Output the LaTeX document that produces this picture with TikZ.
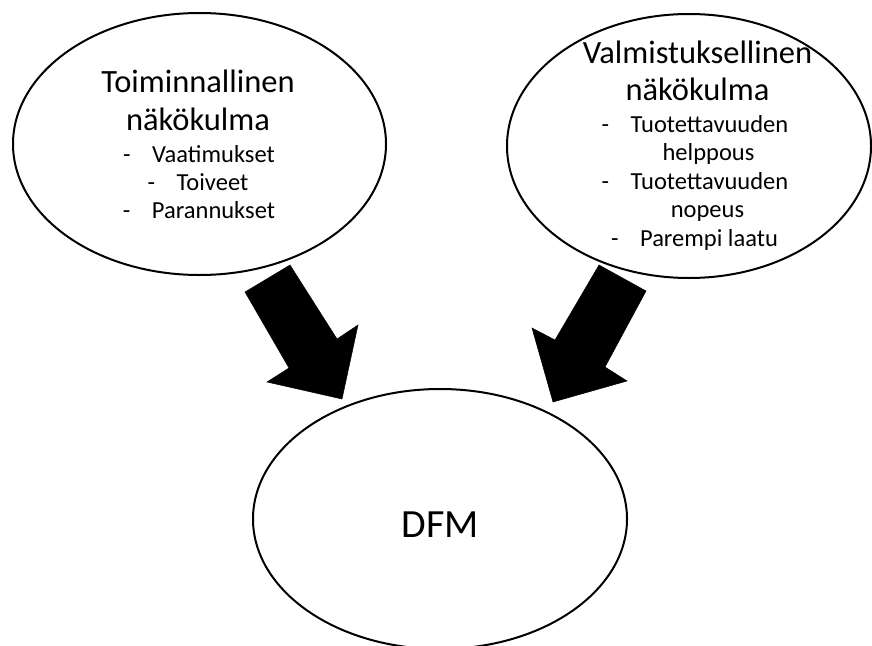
\documentclass[tikz,border=0pt]{standalone}
\usepackage{fontspec}
\setmainfont{Carlito}
\usetikzlibrary{shapes.geometric}

\tikzset{
  view/.style={ellipse, draw=black, line width=2pt, fill=white, inner sep=0pt},
  title/.style={anchor=base, font=\fontsize{32.5}{38}\selectfont, inner sep=0pt},
  item/.style={anchor=base, font=\fontsize{24.5}{28}\selectfont, inner sep=0pt},
  blockarrow/.style={fill=black, draw=black, line width=0.5pt, line join=miter}
}
\newcommand{\dashitem}[1]{\makebox[29pt][l]{-}#1}

\begin{document}
\begin{tikzpicture}[x=1pt, y=-1pt]
  \useasboundingbox (0,0) rectangle (872,645);
  \begin{scope}
    \clip (0,0) rectangle (872,645);

    % the three ellipses
    \node[view, minimum width=373pt, minimum height=262pt] (func) at (199.5,144) {};
    \node[view, minimum width=364pt, minimum height=264pt] (manu) at (689,146) {};
    \node[view, minimum width=374pt, minimum height=260pt] (dfm)  at (440,519) {};

    % block arrows pointing into DFM
    \fill[blockarrow] (290,265) -- (337,339) -- (358,325) -- (342,399)
      -- (267,382) -- (289,368) -- (245,292) -- cycle;
    \fill[blockarrow] (599,265) -- (646,291) -- (605,367) -- (627,381)
      -- (553,402) -- (532,328) -- (555,340) -- cycle;

    % functional view
    \node[title] (f1) at (198,92)  {Toiminnallinen};
    \node[title] (f2) at (198,130) {näkökulma};
    \node[item]  (f3) at (199,162) {\dashitem{Vaatimukset}};
    \node[item]  (f4) at (198,190) {\dashitem{Toiveet}};
    \node[item]  (f5) at (199,218) {\dashitem{Parannukset}};

    % manufacturing view
    \node[title] (m1) at (697.5,63)  {Valmistuksellinen};
    \node[title] (m2) at (697.5,100) {näkökulma};
    \node[item]  (m3) at (695,132)   {\dashitem{Tuotettavuuden}};
    \node[item]  (m4) at (708.5,160) {helppous};
    \node[item]  (m5) at (695,189)   {\dashitem{Tuotettavuuden}};
    \node[item]  (m6) at (707.5,217) {nopeus};
    \node[item]  (m7) at (694.5,246) {\dashitem{Parempi laatu}};

    % result
    \node[anchor=base, font=\fontsize{40}{46}\selectfont, inner sep=0pt] (d1) at (440,537) {DFM};
  \end{scope}
\end{tikzpicture}
\end{document}
